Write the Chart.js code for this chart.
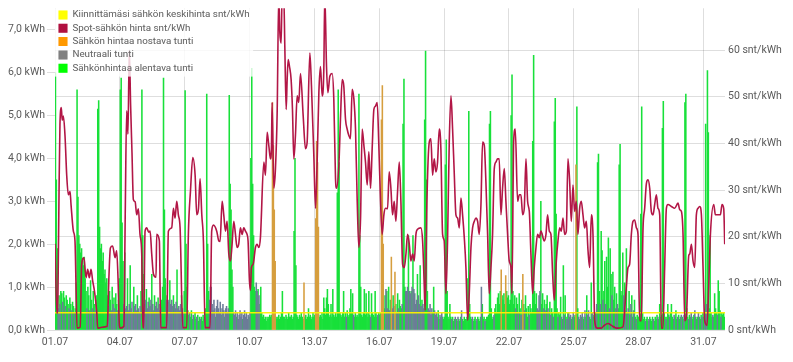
<!DOCTYPE html>
<html lang="fi">
<head>
<meta charset="utf-8">
<title>Sähkönkulutus ja spot-hinta, heinäkuu</title>
<script src="https://cdn.jsdelivr.net/npm/chart.js@4.4.1/dist/chart.umd.min.js"></script>
<style>
  html, body { margin: 0; padding: 0; background: #fff; }
  #usageChart { display: block; }
</style>
</head>
<body>
<canvas id="usageChart" width="793" height="362"></canvas>
<script>
const seriesNames = [
    'Kiinnittämäsi sähkön keskihinta snt/kWh',
    'Spot-sähkön hinta snt/kWh',
    'Sähkön hintaa nostava tunti',
    'Neutraali tunti',
    'Sähkönhintaa alentava tunti'
];
const legendColors = ['#ffff00', '#b0103f', '#ff9900', '#808080', '#00ff00'];

const dateTicks = ['01.07', '04.07', '07.07', '10.07', '13.07', '16.07', '19.07', '22.07', '25.07', '28.07', '31.07'];
const kwhTicks = ['0,0 kWh', '1,0 kWh', '2,0 kWh', '3,0 kWh', '4,0 kWh', '5,0 kWh', '6,0 kWh', '7,0 kWh'];
const priceTicks = ['0 snt/kWh', '10 snt/kWh', '20 snt/kWh', '30 snt/kWh', '40 snt/kWh', '50 snt/kWh', '60 snt/kWh'];

// fixed price line (snt/kWh), hours from 1.7. 00:00
const fixedHours = [0, 744];
const fixedPrice = [3.7, 3.7];

// spot price line (hour, snt/kWh)
const spotHours = [
    0, 1, 2.2, 3.3, 4.5, 5.5, 7, 8, 9.3, 11.1, 13, 14.8, 16.7, 17.8, 20.4, 22.2, 23.5, 24.5, 28, 29.6,
    32.2, 34.4, 36.3, 38.1, 40, 41.8, 43.7, 46.3, 47.4, 52, 58, 60, 61.5, 64, 66.7, 68.5, 70, 71.5, 72.5, 76.5,
    78, 79.6, 81, 82.5, 84, 85.5, 87, 89, 90.7, 92.6, 94.4, 96.3, 97.5, 98.5, 100, 101.9, 104, 105.6, 107.4, 109.3,
    112.2, 112.9, 115.9, 117.4, 124, 125.9, 129.6, 131.5, 133.3, 135.2, 137, 138.9, 141.9, 146.3, 148.1, 150.5, 153, 155.6, 157.4, 159.3,
    161.1, 163, 164.8, 166.7, 172.2, 174, 176, 179.6, 181.9, 183.3, 185.6, 187.4, 189.3, 191.1, 193, 194.8, 196.5, 198.5, 200.4, 202.2,
    204, 205.9, 207.8, 209.6, 211.5, 213.3, 214.4, 215.9, 217, 218.1, 220, 222.6, 224.4, 226.3, 228.1, 231.9, 233.7, 235.6, 237.4, 239.3,
    240.4, 241.1, 243, 244.8, 246.7, 248.5, 249.6, 251.1, 252.2, 254, 255.2, 256.7, 257.8, 258.9, 260.4, 262.2, 263.7, 265.2, 267, 268.9,
    270.7, 272.6, 275.6, 278.1, 280, 283, 284.8, 287.4, 289.3, 291.1, 293, 294.8, 296.7, 298.5, 299.6, 301.5, 303, 305.2, 307.8, 309.6,
    311.5, 312.6, 315.2, 317, 318.9, 320.7, 322.6, 324.4, 326.3, 328.1, 330, 331.9, 333.7, 335.6, 337.4, 339.3, 341.1, 343, 344.8, 346.7,
    348.5, 350.4, 352.2, 354.1, 355.9, 357.8, 359.6, 361.5, 363.3, 365.2, 367, 369.3, 371.1, 373, 374.8, 376.7, 378.5, 380.4, 382.3, 384.1,
    386, 387.8, 389.7, 391.5, 393.4, 395.2, 397.1, 398.9, 400.8, 402.6, 406.3, 408.2, 410, 411.1, 413, 415.6, 417.4, 419.3, 421.1, 423,
    424.8, 426.7, 428.5, 430.4, 432.2, 434.1, 435.9, 437.8, 439.7, 441.5, 443.3, 445.2, 447.1, 448.9, 450.8, 452.6, 454.5, 456.3, 458.2, 460,
    461.9, 463.7, 465.6, 467.4, 469.3, 471.1, 473, 474.8, 476.7, 478.5, 480.4, 482.2, 484.1, 485.9, 487.8, 489.6, 491.5, 493.3, 495.2, 497,
    498.9, 500.7, 502.6, 504.4, 506.3, 507.4, 509.3, 511.1, 513.7, 515.6, 517.4, 519.3, 521.1, 523, 524.8, 526.7, 528.5, 530.4, 532.2, 534.1,
    535.9, 537.8, 539.6, 543.3, 545.2, 547, 548.9, 550.7, 552.6, 554.4, 556.7, 558.5, 560.4, 562.2, 564.1, 565.9, 567.8, 569.6, 571.5, 573.3,
    575.2, 577, 578.9, 580.7, 582.6, 584.4, 586.3, 588.1, 590, 591.9, 593.7, 595.6, 597.4, 599.3, 602, 606.7, 610, 614.1, 617.8, 622,
    625.2, 630.7, 634.4, 636.3, 638.1, 640, 641.8, 643.7, 645.6, 647.4, 649.3, 651, 653, 654.8, 656.7, 658.5, 660.4, 662.2, 664.1, 665.9,
    667.8, 669.6, 671.5, 673.3, 675, 677, 678.9, 680.7, 684.4, 688.1, 691.8, 693.7, 695.6, 697.4, 699.3, 701.1, 703.7, 704.8, 706.7, 708.5,
    710.4, 712.2, 714.1, 715.9, 717.8, 719.6, 721.5, 724.1, 726, 727.8, 731.5, 733.3, 737, 738.9, 740.7, 742.6, 743.7
];
const spotPrice = [
    18.5, 10, 3.6, 8, 30, 44, 47.7, 45, 45.9, 41.7, 33.2, 29, 29.7, 26.9, 21.2, 19.1, 8, 0.4, 0.6, 14,
    15.5, 11.2, 13, 11.2, 13, 10.6, 8.5, 4, 0.4, 0.6, 0.8, 12, 17.6, 18, 15.5, 17, 11, 1, 0.4, 0.8,
    25, 47, 42, 60, 48, 38, 28, 27.5, 24.7, 26, 20.5, 16.3, 0.5, 0.5, 21.2, 21.9, 21, 21.2, 16.3, 12,
    11.3, 20.5, 19.1, 0.5, 0.5, 21.2, 21.9, 26.1, 24, 27.6, 24.7, 21.9, 0.5, 0.5, 20.5, 30, 37, 33.2, 24.7, 26,
    32.4, 24.7, 19.1, 0.5, 0.5, 21.2, 22.5, 21.2, 19.1, 19, 27.6, 24.7, 21.2, 23.3, 16.3, 14.8, 18, 23.3, 20.5, 17.7,
    18.4, 21.9, 20.5, 21.9, 21.2, 20.5, 19.1, 10.6, 8.5, 13.4, 14.1, 17.7, 18.4, 17.7, 19.8, 36, 33.2, 42.4, 39.6, 36.7,
    39.6, 48.8, 30.4, 34.6, 46.6, 72, 64, 61.5, 72, 72, 60.8, 47.3, 53.7, 58, 56.5, 53.7, 47.3, 36.7, 41.7, 50.2,
    48.8, 55, 45.9, 38.9, 40.3, 59.4, 52.3, 37.5, 26.1, 36, 50.9, 56.5, 50.2, 55.8, 72, 56.5, 50.9, 54.4, 55, 49.5,
    32.5, 30.4, 35.3, 45.2, 53.7, 52.3, 45.2, 43.1, 41.7, 41, 51.6, 49.5, 43.1, 27.6, 17.7, 24, 43.1, 39.6, 36, 31.1,
    38.2, 30.4, 38.9, 47.3, 48, 48.8, 39.6, 27.6, 20.5, 24.7, 26.1, 26, 33.9, 30.4, 24.7, 27.6, 23.3, 29.7, 36, 27.6,
    14.1, 13.4, 16.3, 20.5, 18.4, 14.8, 16.3, 14.8, 20.5, 21.6, 21.9, 19.1, 9.9, 4.2, 27.6, 40.3, 41, 33.2, 36.7, 33.9,
    36, 43.1, 38.9, 20.5, 19.1, 7.8, 19.1, 40.3, 50.2, 43.1, 33.9, 24.7, 24, 21.9, 28.3, 24.7, 19.8, 13.4, 2.1, 7.8,
    17.7, 21.9, 23.3, 24, 23.3, 20.5, 26.9, 40.3, 39.6, 31.8, 20.5, 7.8, 13.4, 20.5, 34.6, 36, 36.7, 36.7, 24.7, 30.4,
    34.6, 27.6, 20.5, 14.8, 13.4, 7.8, 40.3, 43.1, 27.6, 29, 29, 24.7, 26.1, 36.7, 27.6, 25.4, 16.3, 7.8, 13.4, 17.7,
    20.5, 19.8, 21.2, 19.1, 20.5, 24.7, 21.2, 20.5, 12, 6.4, 14.8, 19.1, 21.9, 21.2, 24, 20.5, 21.2, 36.7, 31.8, 23.3,
    31.1, 25.4, 27.6, 20.5, 26.1, 27.6, 24.7, 21.9, 23.3, 17, 13.4, 24.7, 20.5, 2, 0.4, 0.4, 1, 1.4, 1, 0.5,
    0.4, 0.7, 9.2, 13.4, 14.1, 20.5, 23.3, 23.6, 21.9, 20.5, 2, 2, 21.9, 26.1, 31.4, 32.2, 30.4, 25.4, 24.7, 26.9,
    29, 26.1, 24.7, 0.4, 0.4, 13.4, 26.1, 26.9, 26.5, 26.1, 27.2, 25.8, 25.4, 20.5, 2, 2.8, 15.9, 16.3, 18.4, 14.8,
    13.4, 24.7, 26.1, 26.5, 24.7, 13.4, 2, 1, 10, 20.5, 26.9, 24.7, 24.7, 24.7, 26.9, 26, 18.4
];

// hourly consumption in kWh, one row per day (00-23)
const hourlyKwh = [
    [6.0, 3.5, 1.9, 0.5, 0.8, 0.6, 0.9, 0.85, 0.65, 0.9, 0.75, 0.55, 0.8, 0.7, 0.6, 0.5, 0.75, 0.6, 0.45, 0.65, 0.55, 0.4, 0.5, 1.1],
    [5.6, 3.1, 2.2, 2.0, 1.8, 1.9, 1.6, 1.5, 1.7, 1.2, 0.9, 0.5, 1.0, 0.8, 0.45, 1.15, 0.7, 0.5, 0.9, 0.6, 0.45, 0.7, 0.8, 5.15],
    [5.35, 2.4, 1.9, 2.0, 1.6, 1.8, 1.3, 1.4, 1.1, 1.2, 0.8, 0.55, 0.9, 0.7, 0.45, 1.0, 0.6, 0.75, 0.5, 0.85, 0.6, 0.45, 0.7, 1.2],
    [5.6, 5.87, 2.5, 1.6, 0.6, 1.8, 0.5, 0.55, 1.2, 0.45, 0.6, 1.5, 0.5, 0.65, 0.4, 1.0, 0.55, 0.6, 0.45, 0.8, 0.5, 0.4, 0.55, 0.9],
    [5.6, 2.2, 1.3, 0.6, 0.7, 0.95, 0.5, 0.65, 0.75, 0.55, 0.7, 1.3, 0.6, 0.45, 0.8, 0.55, 0.65, 0.5, 0.75, 0.6, 0.45, 0.5, 0.7, 1.0],
    [5.87, 2.8, 1.2, 0.7, 0.8, 0.65, 0.7, 1.15, 0.6, 0.7, 0.55, 0.8, 0.6, 0.5, 0.65, 1.4, 0.5, 0.55, 0.45, 0.6, 0.8, 0.5, 0.4, 0.9],
    [5.58, 2.0, 1.0, 0.45, 0.35, 0.4, 0.3, 0.45, 0.25, 0.35, 0.3, 0.4, 0.25, 0.3, 0.35, 0.2, 0.3, 0.25, 0.3, 0.2, 0.35, 0.25, 0.3, 0.5],
    [5.5, 2.0, 0.9, 0.7, 1.0, 1.0, 0.6, 0.45, 0.7, 0.5, 0.3, 0.55, 0.7, 0.5, 0.4, 0.65, 0.35, 0.5, 0.6, 0.45, 0.3, 0.5, 0.55, 0.4],
    [0.5, 5.47, 3.4, 2.8, 1.4, 1.0, 0.4, 0.35, 0.45, 0.3, 0.4, 0.25, 0.35, 0.45, 0.3, 0.4, 0.25, 0.35, 0.45, 0.3, 0.4, 0.25, 0.35, 0.3],
    [0.4, 4.0, 6.1, 3.4, 2.2, 1.0, 0.9, 1.1, 0.9, 0.95, 0.8, 0.6, 1.0, 0.4, 0.3, 0.35, 0.25, 0.3, 0.2, 0.3, 0.25, 0.3, 0.35, 0.3],
    [0.35, 5.3, 4.3, 2.8, 1.6, 0.3, 0.25, 0.3, 0.35, 0.25, 0.3, 0.4, 0.9, 0.3, 0.3, 0.25, 0.35, 0.3, 0.25, 0.4, 0.3, 0.3, 0.35, 0.25],
    [0.3, 2.3, 4.0, 1.5, 0.35, 0.3, 0.25, 0.35, 0.3, 0.4, 0.3, 0.25, 1.1, 0.3, 0.35, 0.25, 0.3, 0.5, 0.3, 0.35, 0.25, 0.3, 0.4, 0.3],
    [0.35, 2.6, 4.4, 3.9, 2.4, 0.3, 0.35, 0.3, 0.4, 0.25, 0.75, 0.5, 0.35, 0.75, 0.95, 0.6, 0.3, 0.35, 0.6, 0.3, 0.95, 0.35, 0.3, 0.4],
    [0.3, 3.2, 5.6, 3.9, 0.4, 0.35, 0.3, 0.4, 0.9, 0.3, 0.4, 0.3, 0.45, 0.3, 0.35, 0.5, 0.95, 0.4, 0.85, 0.35, 0.3, 0.4, 0.3, 0.35],
    [0.3, 5.5, 2.2, 1.0, 0.35, 0.3, 0.4, 0.95, 0.35, 0.85, 0.4, 0.3, 0.9, 0.35, 0.3, 0.85, 0.4, 0.35, 0.3, 0.9, 0.4, 0.3, 0.35, 0.4],
    [0.35, 0.4, 4.9, 5.7, 2.0, 0.5, 0.8, 0.95, 0.9, 0.5, 1.0, 0.45, 0.7, 1.7, 0.5, 0.8, 0.55, 1.35, 0.6, 0.4, 0.85, 0.5, 0.7, 0.55],
    [0.5, 0.6, 4.8, 5.85, 1.0, 0.9, 0.9, 1.0, 2.2, 0.9, 0.85, 0.9, 1.0, 2.2, 0.95, 0.85, 0.6, 0.7, 1.3, 0.8, 0.6, 1.5, 0.55, 0.7],
    [0.6, 0.5, 4.9, 6.5, 3.5, 0.9, 0.5, 0.45, 0.6, 0.35, 0.5, 0.4, 1.0, 0.45, 0.35, 0.4, 0.3, 0.45, 0.25, 0.35, 0.3, 0.4, 0.3, 0.25],
    [0.3, 3.85, 4.43, 0.9, 0.3, 0.25, 0.6, 0.3, 0.25, 0.3, 0.2, 0.25, 0.3, 0.25, 0.2, 0.3, 0.25, 0.2, 0.3, 0.45, 0.25, 0.2, 0.3, 0.25],
    [0.25, 0.3, 1.2, 5.1, 0.6, 0.3, 0.25, 0.3, 0.2, 0.25, 0.3, 0.2, 0.25, 0.3, 0.25, 0.2, 0.3, 1.0, 0.6, 0.25, 0.3, 0.2, 0.25, 0.3],
    [0.3, 0.35, 4.8, 5.1, 0.5, 0.25, 0.3, 0.35, 0.5, 0.6, 0.4, 0.75, 0.85, 0.6, 0.9, 1.4, 0.8, 0.7, 0.85, 0.6, 1.27, 0.9, 0.75, 0.8],
    [0.6, 0.7, 5.0, 5.95, 0.9, 0.6, 0.8, 0.5, 0.75, 0.6, 0.4, 0.85, 0.5, 0.35, 0.7, 1.3, 0.6, 0.45, 0.8, 0.5, 0.3, 0.55, 0.35, 0.6],
    [0.5, 0.4, 4.4, 6.4, 0.9, 0.6, 0.85, 0.5, 0.45, 0.8, 0.9, 3.0, 0.6, 0.85, 0.5, 0.7, 0.45, 0.6, 0.8, 0.5, 0.4, 0.65, 0.35, 0.5],
    [0.4, 0.3, 4.85, 5.4, 2.7, 0.5, 0.3, 0.4, 0.35, 0.77, 0.3, 0.25, 1.5, 0.35, 0.8, 0.3, 0.25, 0.4, 0.4, 0.3, 0.35, 0.25, 0.3, 0.4],
    [0.3, 0.35, 3.85, 5.2, 0.5, 0.3, 0.25, 0.35, 0.3, 0.4, 0.25, 0.3, 0.45, 0.3, 0.8, 0.35, 0.45, 0.3, 0.25, 1.1, 0.4, 0.3, 0.35, 0.3],
    [0.4, 0.6, 3.9, 4.1, 0.9, 0.6, 2.3, 1.85, 0.7, 0.9, 1.6, 0.6, 1.7, 1.0, 2.15, 0.5, 1.9, 1.3, 0.8, 1.35, 0.7, 1.0, 0.5, 0.85],
    [0.6, 0.5, 3.85, 4.33, 0.9, 0.8, 1.8, 0.8, 1.1, 0.45, 1.9, 0.4, 0.5, 0.9, 0.35, 0.6, 0.8, 0.3, 0.45, 0.7, 0.3, 0.25, 0.35, 0.3],
    [0.3, 0.35, 2.7, 5.2, 0.4, 0.25, 0.3, 0.2, 0.25, 0.3, 0.2, 0.25, 0.3, 0.25, 0.2, 0.3, 0.25, 0.2, 0.3, 0.25, 0.35, 0.3, 0.25, 0.6],
    [0.3, 0.35, 4.7, 5.33, 0.4, 0.3, 0.25, 0.3, 0.6, 0.35, 0.3, 0.4, 0.6, 0.3, 0.25, 0.35, 0.3, 0.45, 0.25, 0.3, 0.35, 0.25, 0.3, 0.35],
    [0.3, 0.25, 0.35, 5.3, 5.5, 0.5, 0.3, 0.25, 0.35, 0.3, 0.4, 0.25, 0.3, 0.35, 0.45, 0.3, 0.25, 0.3, 0.4, 0.3, 0.25, 0.35, 0.3, 0.4],
    [0.3, 0.45, 4.8, 0.6, 6.05, 4.6, 0.5, 2.2, 0.4, 0.3, 0.35, 0.3, 0.85, 0.5, 0.4, 0.35, 1.15, 0.9, 0.45, 0.3, 0.4, 0.35, 0.4, 0.3]
];

// hour type per day: o = nostava, n = neutraali, g = alentava
const hourType = [
    'gggngnggnggngggnggnggngg',
    'gggggggggggnggnggnggnggg',
    'gggggggggggnggngngnggngg',
    'ggggngnngnngnnngnnngnnng',
    'gggnngnngnngnngnnngnnngg',
    'gggngnngnnngnnngnnnngnng',
    'gggggngggngggngggnggggng',
    'gggnnnnnnngnnnnngnnngnnn',
    'ngggggnnngnnnnnngnnnnnng',
    'nggggggnngnggggggggggggg',
    'gooooggggggggggggggggggg',
    'ggggggggggggoggggggggggg',
    'gooooggggggggggggggggggg',
    'gggggggggggngggggggngggg',
    'ggggggggggggggngggggggng',
    'ggoooggngngngongnogngngg',
    'gngggnnngnngngnnnngnngng',
    'nnggggnnnnnggnnnnggngngg',
    'ggggggggngggnggngggngggg',
    'gggggggnggggnggggngggngg',
    'gggggggngggggggoggggoggg',
    'gggggggnggnggngognggggng',
    'gggggggngnngggngnggnggng',
    'gnggggngggnggnggngngnggn',
    'ggoggngngnggnggnngggnggn',
    'gngggnggnggngggnggngggng',
    'nggggggngnggnggnggnggngg',
    'gggggggngggnggggnggggngg',
    'ggggggngggnggggngggngggn',
    'ggnggggnggngggngggngggng',
    'gngnggggggnggggngggngggg'
];

const textColor = '#5a5a5a';
const gridColor = 'rgba(0, 0, 0, 0.13)';
const tickFont = { family: 'Roboto', size: 10.5, lineHeight: 1 };
const legendFont = { family: 'Roboto', size: 9.8 };

const orangeBars = [];
const greyBars = [];
const greenBars = [];
hourlyKwh.forEach((day, d) => {
    day.forEach((kwh, h) => {
        const point = { x: d * 24 + h + 0.5, y: kwh };
        const type = hourType[d][h] || 'g';
        if (type === 'o') {
            orangeBars.push(point);
        } else if (type === 'n') {
            greyBars.push(point);
        } else {
            greenBars.push(point);
        }
    });
});

const spotPoints = spotHours.map((h, i) => ({ x: h, y: spotPrice[i] }));
const fixedPoints = fixedHours.map((h, i) => ({ x: h, y: fixedPrice[i] }));

// legend sits inside the plot, draw a pale box behind it on top of the bars
const legendBackground = {
    id: 'legendBackground',
    afterDatasetsDraw(chart) {
        const legend = chart.legend;
        if (!legend || !legend.legendHitBoxes || legend.legendHitBoxes.length === 0) {
            return;
        }
        const labels = legend.options.labels;
        const pad = labels.padding;
        const rowHeight = Math.max(legendFont.size, labels.boxHeight) + pad;
        const width = Math.max(...legend.legendHitBoxes.map(b => b.width)) + pad * 2;
        const top = chart.chartArea.top;
        const bottom = legend.top + legend._computeTitleHeight() + pad + legend.legendHitBoxes.length * rowHeight;
        const ctx = chart.ctx;
        ctx.save();
        ctx.fillStyle = 'rgba(255, 255, 255, 0.8)';
        ctx.fillRect(legend.left, top, width, bottom - top);
        ctx.restore();
        legend.draw();
    }
};

const barDefaults = {
    type: 'bar',
    yAxisID: 'y',
    grouped: false,
    barPercentage: 1,
    categoryPercentage: 1,
    borderWidth: 0
};

const data = {
    datasets: [
        {
            type: 'line',
            label: seriesNames[0],
            data: fixedPoints,
            borderColor: 'rgba(255, 240, 0, 0.95)',
            borderWidth: 1.5,
            pointRadius: 0,
            yAxisID: 'y1',
            order: 1
        },
        {
            type: 'line',
            label: seriesNames[1],
            data: spotPoints,
            borderColor: 'rgb(178, 22, 70)',
            borderWidth: 1.6,
            pointRadius: 0,
            cubicInterpolationMode: 'monotone',
            yAxisID: 'y1',
            order: 0
        },
        { ...barDefaults, label: seriesNames[2], data: orangeBars, backgroundColor: 'rgb(214, 158, 62)', order: 2 },
        { ...barDefaults, label: seriesNames[3], data: greyBars, backgroundColor: 'rgb(108, 124, 152)', order: 3 },
        { ...barDefaults, label: seriesNames[4], data: greenBars, backgroundColor: 'rgb(24, 224, 58)', order: 4 }
    ]
};

const config = {
    type: 'bar',
    data: data,
    plugins: [legendBackground],
    options: {
        responsive: false,
        animation: false,
        devicePixelRatio: 1,
        layout: { padding: { top: 0, right: 0, bottom: 0, left: 0 } },
        plugins: {
            tooltip: { enabled: false },
            legend: {
                position: 'chartArea',
                align: 'start',
                // empty title only pushes the rows down a little
                title: { display: true, text: '', font: { size: 1, lineHeight: 1 }, padding: { top: 5.6, bottom: 0 } },
                labels: {
                    boxWidth: 9,
                    boxHeight: 9,
                    padding: 3.5,
                    color: textColor,
                    font: legendFont,
                    generateLabels: () => seriesNames.map((name, i) => ({
                        text: name,
                        fillStyle: legendColors[i],
                        strokeStyle: legendColors[i],
                        lineWidth: 0,
                        hidden: false,
                        datasetIndex: i
                    }))
                }
            }
        },
        scales: {
            x: {
                type: 'linear',
                min: 0,
                max: 744,
                offset: false,
                grid: { color: gridColor, drawTicks: false, offset: false },
                border: { display: false },
                ticks: {
                    stepSize: 72,
                    includeBounds: false,
                    autoSkip: false,
                    maxRotation: 0,
                    padding: 7,
                    color: textColor,
                    font: tickFont,
                    callback: value => dateTicks[Math.round(value / 72)]
                },
                afterFit: scale => { scale.height = 32; }
            },
            y: {
                position: 'left',
                min: 0,
                max: 7.5,
                grid: { drawOnChartArea: false, tickLength: 8, color: gridColor },
                border: { display: false },
                ticks: {
                    stepSize: 1,
                    includeBounds: false,
                    padding: 2,
                    color: textColor,
                    font: tickFont,
                    callback: value => kwhTicks[Math.round(value)]
                },
                afterFit: scale => { scale.width = 55; }
            },
            y1: {
                position: 'right',
                min: 0,
                max: 69,
                grid: { color: gridColor, drawTicks: false },
                border: { display: false },
                ticks: {
                    stepSize: 10,
                    includeBounds: false,
                    padding: 3,
                    color: textColor,
                    font: tickFont,
                    callback: value => priceTicks[Math.round(value / 10)]
                },
                afterFit: scale => { scale.width = 68; }
            }
        }
    }
};

new Chart(document.getElementById('usageChart'), config);
</script>
</body>
</html>
